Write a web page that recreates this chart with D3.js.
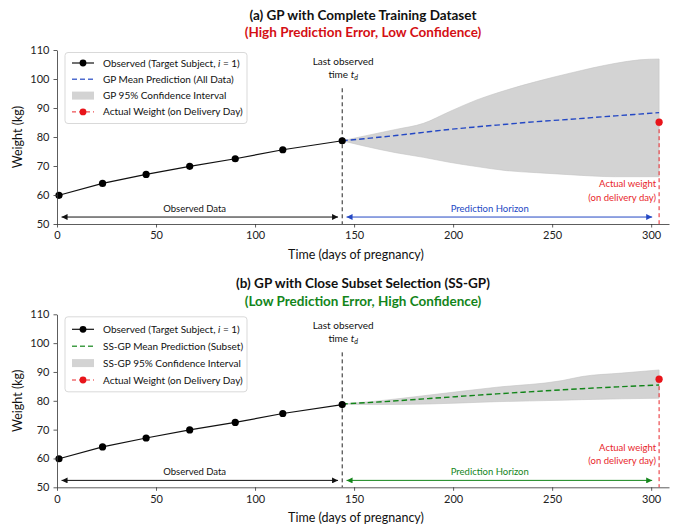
<!DOCTYPE html>
<html>
<head>
<meta charset="utf-8">
<script src="https://cdn.jsdelivr.net/npm/d3@7"></script>
<style>
  body { margin: 0; background: #fff; }
  svg { font-family: Lato, "Open Sans", sans-serif; }
</style>
</head>
<body>
<svg id="chart" width="683" height="529"></svg>
<script>
// Observed weights of the target subject
const obsDays = [1, 23, 45, 67, 90, 114, 144];
const obsWeight = [59.9, 64.0, 67.1, 69.9, 72.5, 75.6, 78.7];

const lastObsDay = 144;
const deliveryDay = 304;
const actualWeight = [85.1, 87.5];   // (a), (b)

// (a) GP on the complete training set
const gpDays  = [144, 155, 171, 185, 198, 212, 227, 242, 259, 282, 294, 304];
const gpMean  = [78.7, 79.4, 80.5, 81.6, 82.6, 83.5, 84.4, 85.3, 86.1, 87.3, 87.9, 88.4];
const gpUpper = [78.7, 80.3, 82.6, 84.7, 88.7, 92.8, 96.2, 99.1, 102.0, 105.4, 106.6, 106.9];
const gpLower = [78.7, 76.9, 74.6, 73.0, 71.3, 69.8, 68.4, 67.7, 67.0, 66.3, 66.3, 66.3];

// (b) SS-GP on the close subset
const ssDays  = [144, 160, 188, 222, 255, 265, 285, 304];
const ssMean  = [78.9, 79.5, 80.8, 82.4, 83.8, 84.2, 84.9, 85.5];
const ssUpper = [78.9, 79.8, 82.0, 84.7, 87.0, 88.4, 89.6, 90.7];
const ssLower = [78.9, 78.7, 78.9, 79.7, 80.2, 80.4, 80.7, 80.9];

const xTicks = [0, 50, 100, 150, 200, 250, 300];
const yTicks = [50, 60, 70, 80, 90, 100, 110];

const titles = ["(a) GP with Complete Training Dataset", "(b) GP with Close Subset Selection (SS-GP)"];
const subtitles = ["(High Prediction Error, Low Confidence)", "(Low Prediction Error, High Confidence)"];
const meanLabels = ["GP Mean Prediction (All Data)", "SS-GP Mean Prediction (Subset)"];
const ciLabels = ["GP 95% Confidence Interval", "SS-GP 95% Confidence Interval"];

const svg = d3.select("#chart");
svg.append("rect").attr("width", 683).attr("height", 529).attr("fill", "#fff");

// arrow head markers
const defs = svg.append("defs");
[["black", "#111"], ["blue", "#2448c4"], ["green", "#13851a"]].forEach(([name, col]) => {
  ["end", "start"].forEach(side => {
    defs.append("marker")
      .attr("id", `arrow-${name}-${side}`)
      .attr("viewBox", "0 0 10 10")
      .attr("refX", 10).attr("refY", 5)
      .attr("markerWidth", 9).attr("markerHeight", 6)
      .attr("markerUnits", "userSpaceOnUse")
      .attr("orient", side === "end" ? "auto" : "auto-start-reverse")
      .append("path")
      .attr("d", "M0,0 L10,5 L0,10 Z")
      .attr("fill", col);
  });
});

const panels = [
  { top: 50, bottom: 224, titleY: 19.5, subY: 36.5, days: gpDays, mean: gpMean, upper: gpUpper, lower: gpLower,
    meanColor: "#2448c4", arrow: "blue", subColor: "#d40f14" },
  { top: 314.3, bottom: 487.3, titleY: 287.5, subY: 306, days: ssDays, mean: ssMean, upper: ssUpper, lower: ssLower,
    meanColor: "#13851a", arrow: "green", subColor: "#13851a" }
];

panels.forEach((p, k) => {
  const x = d3.scaleLinear().domain([0, 309]).range([57, 669]);
  const y = d3.scaleLinear().domain([50, 110]).range([p.bottom, p.top]);
  const g = svg.append("g");
  const cx = (57 + 669) / 2;

  // titles
  g.append("text").attr("x", cx).attr("y", p.titleY)
    .attr("text-anchor", "middle").attr("font-size", 13.5).attr("font-weight", "bold")
    .attr("fill", "#111").text(titles[k]);
  g.append("text").attr("x", cx).attr("y", p.subY)
    .attr("text-anchor", "middle").attr("font-size", 13.5).attr("font-weight", "bold")
    .attr("fill", p.subColor).text(subtitles[k]);

  // confidence band
  const band = p.days.map((d, i) => ({ d, lo: p.lower[i], hi: p.upper[i], m: p.mean[i] }));
  g.append("path").datum(band)
    .attr("fill", "#d3d3d3").attr("stroke", "#c4c4c4").attr("stroke-width", 0.6)
    .attr("d", d3.area().curve(d3.curveMonotoneX).x(d => x(d.d)).y0(d => y(d.lo)).y1(d => y(d.hi)));

  // last observed vertical line
  g.append("line")
    .attr("x1", x(lastObsDay)).attr("x2", x(lastObsDay))
    .attr("y1", y(96.8)).attr("y2", p.bottom)
    .attr("stroke", "#222").attr("stroke-width", 1).attr("stroke-dasharray", "4,3");
  g.append("text").attr("x", x(lastObsDay) + 1).attr("y", y(104.9))
    .attr("text-anchor", "middle").attr("font-size", 10).attr("fill", "#111")
    .text("Last observed");
  const tt = g.append("text").attr("x", x(lastObsDay) + 1).attr("y", y(100.4))
    .attr("text-anchor", "middle").attr("font-size", 10).attr("fill", "#111");
  tt.append("tspan").text("time ");
  tt.append("tspan").attr("font-style", "italic").text("t");
  tt.append("tspan").attr("font-style", "italic").attr("font-size", 7).attr("dy", 2).text("d");

  // mean prediction
  g.append("path").datum(band)
    .attr("fill", "none").attr("stroke", p.meanColor).attr("stroke-width", 1.4)
    .attr("stroke-dasharray", "5.5,3")
    .attr("d", d3.line().curve(d3.curveMonotoneX).x(d => x(d.d)).y(d => y(d.m)));

  // observed data
  const obs = obsDays.map((d, i) => ({ d, w: obsWeight[i] }));
  g.append("path").datum(obs)
    .attr("fill", "none").attr("stroke", "#111").attr("stroke-width", 1.2)
    .attr("d", d3.line().x(d => x(d.d)).y(d => y(d.w)));
  g.selectAll(".obs").data(obs).enter().append("circle")
    .attr("cx", d => x(d.d)).attr("cy", d => y(d.w)).attr("r", 3.6).attr("fill", "#000");

  // actual weight on delivery day
  g.append("line")
    .attr("x1", x(deliveryDay)).attr("x2", x(deliveryDay))
    .attr("y1", y(actualWeight[k])).attr("y2", p.bottom)
    .attr("stroke", "#e8262a").attr("stroke-width", 1).attr("stroke-dasharray", "4,3");
  g.append("circle").attr("cx", x(deliveryDay)).attr("cy", y(actualWeight[k]))
    .attr("r", 3.6).attr("fill", "#e8141a");
  g.append("text").attr("x", x(deliveryDay) - 3).attr("y", y(62.6))
    .attr("text-anchor", "end").attr("font-size", 9.5).attr("fill", "#e8262a")
    .text("Actual weight");
  g.append("text").attr("x", x(deliveryDay) - 3).attr("y", y(58))
    .attr("text-anchor", "end").attr("font-size", 9.5).attr("fill", "#e8262a")
    .text("(on delivery day)");

  // span arrows
  const arrowY = y(52.4);
  g.append("line").attr("x1", x(2.3)).attr("x2", x(141.9)).attr("y1", arrowY).attr("y2", arrowY)
    .attr("stroke", "#111").attr("stroke-width", 1)
    .attr("marker-start", "url(#arrow-black-start)").attr("marker-end", "url(#arrow-black-end)");
  g.append("text").attr("x", x(69.5)).attr("y", y(54.3))
    .attr("text-anchor", "middle").attr("font-size", 9.5).attr("fill", "#111").text("Observed Data");
  g.append("line").attr("x1", x(146.2)).attr("x2", x(300.5)).attr("y1", arrowY).attr("y2", arrowY)
    .attr("stroke", p.meanColor).attr("stroke-width", 1)
    .attr("marker-start", `url(#arrow-${p.arrow}-start)`).attr("marker-end", `url(#arrow-${p.arrow}-end)`);
  g.append("text").attr("x", x(218.5)).attr("y", y(54.3))
    .attr("text-anchor", "middle").attr("font-size", 9.5).attr("fill", p.meanColor).text("Prediction Horizon");

  // axes
  const xAxis = g.append("g").attr("transform", `translate(0,${p.bottom})`)
    .call(d3.axisBottom(x).tickValues(xTicks).tickSize(3.5).tickSizeOuter(0).tickPadding(4));
  const yAxis = g.append("g").attr("transform", "translate(57,0)")
    .call(d3.axisLeft(y).tickValues(yTicks).tickSize(3.5).tickSizeOuter(0).tickPadding(4));
  [xAxis, yAxis].forEach(a => {
    a.selectAll("text").attr("font-size", 11).attr("fill", "#222")
      .attr("font-family", "Lato, sans-serif");
    a.selectAll("line").attr("stroke", "#333").attr("stroke-width", 0.8);
    a.select(".domain").attr("stroke", "#333").attr("stroke-width", 0.8);
  });

  g.append("text").attr("x", 356).attr("y", p.bottom + 35)
    .attr("text-anchor", "middle").attr("font-size", 12.5).attr("fill", "#111")
    .text("Time (days of pregnancy)");
  g.append("text")
    .attr("transform", `translate(22,${(p.top + p.bottom) / 2}) rotate(-90)`)
    .attr("text-anchor", "middle").attr("font-size", 12.5).attr("fill", "#111")
    .text("Weight (kg)");

  // legend
  const lx = 65, ly = p.top + 2.5, lw = 182, lh = 71 + k * 4, rowH = 16.3 + k * 0.6;
  const leg = g.append("g").attr("transform", `translate(${lx},${ly})`);
  leg.append("rect").attr("width", lw).attr("height", lh).attr("rx", 3)
    .attr("fill", "#fff").attr("fill-opacity", 0.85).attr("stroke", "#cfcfcf").attr("stroke-width", 0.8);
  const labels = ["Observed", meanLabels[k], ciLabels[k], "Actual Weight (on Delivery Day)"];
  labels.forEach((lab, i) => {
    const ry = 10.5 + k * 2 + i * rowH;
    const row = leg.append("g").attr("transform", `translate(0,${ry})`);
    if (i === 0) {
      row.append("line").attr("x1", 7).attr("x2", 29).attr("stroke", "#111").attr("stroke-width", 1.2);
      row.append("circle").attr("cx", 18).attr("r", 3.4).attr("fill", "#000");
    } else if (i === 1) {
      row.append("line").attr("x1", 7).attr("x2", 29).attr("stroke", p.meanColor)
        .attr("stroke-width", 1.4).attr("stroke-dasharray", "5,3").attr("opacity", 0.8);
    } else if (i === 2) {
      row.append("rect").attr("x", 7).attr("y", -4).attr("width", 22).attr("height", 8)
        .attr("fill", "#d3d3d3");
    } else {
      row.append("line").attr("x1", 7).attr("x2", 29).attr("stroke", "#e8262a")
        .attr("stroke-width", 1).attr("stroke-dasharray", "4,3");
      row.append("circle").attr("cx", 18).attr("r", 3.4).attr("fill", "#e8141a");
    }
    const t = row.append("text").attr("x", 38).attr("y", 3.5)
      .attr("font-size", 10).attr("fill", "#111");
    if (i === 0) {
      t.append("tspan").text("Observed (Target Subject, ");
      t.append("tspan").attr("font-style", "italic").text("i");
      t.append("tspan").text(" = 1)");
    } else {
      t.text(lab);
    }
  });
});
</script>
</body>
</html>
